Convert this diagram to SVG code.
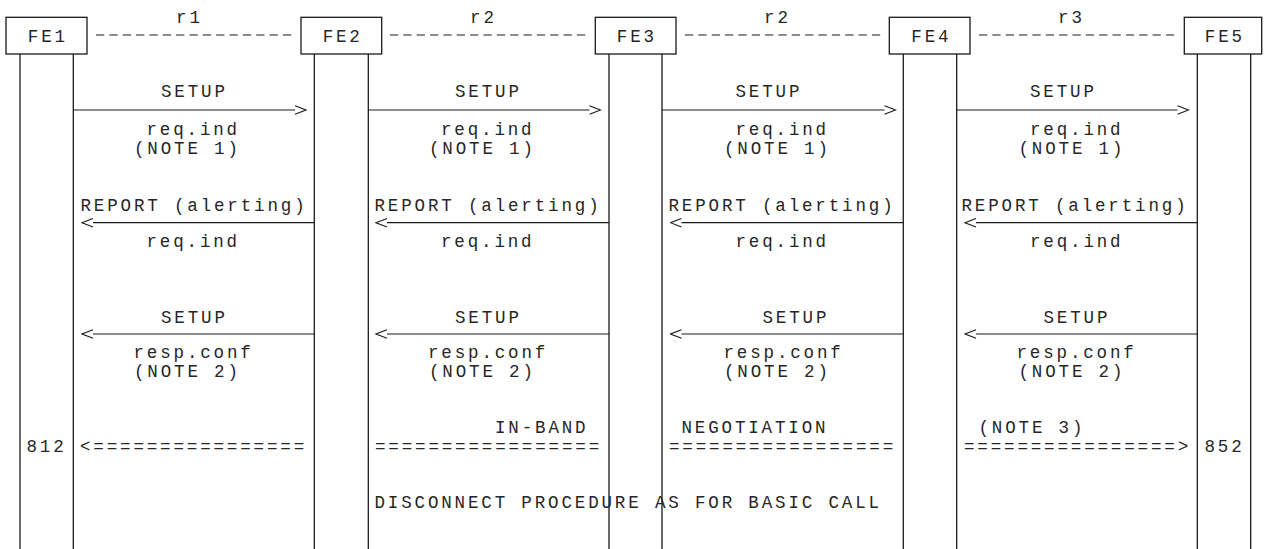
<svg xmlns="http://www.w3.org/2000/svg" width="1271" height="549" viewBox="0 0 1271 549">
<style>
.t{font-family:"Liberation Mono","Courier New",monospace;font-size:17.5px;letter-spacing:2.85px;fill:#262626}
.c{text-anchor:middle}
.box{fill:#fff;stroke:#1a1a1a;stroke-width:1.3}
.life{stroke:#1a1a1a;stroke-width:1.3}
.msg{stroke:#1a1a1a;stroke-width:1.2;fill:none}
.dash{stroke:#1a1a1a;stroke-width:1.2;stroke-dasharray:8.3 5.05}
</style>
<defs>
<marker id="chev" markerUnits="userSpaceOnUse" viewBox="-1 -1 13 11" refX="0" refY="4.2" markerWidth="13" markerHeight="11" orient="auto">
<path d="M0,0 L11,4.2 L0,8.4" fill="none" stroke="#1a1a1a" stroke-width="1.1"/>
</marker>
</defs>
<rect width="1271" height="549" fill="#fff"/>
<g id="FE1">
<rect class="box" x="6" y="17.3" width="81" height="36.7"/>
<line class="life" x1="20" y1="54" x2="20" y2="549"/>
<line class="life" x1="73.3" y1="54" x2="73.3" y2="549"/>
<text class="t c" x="47.9" y="42">FE1</text>
</g>
<g id="FE2">
<rect class="box" x="301" y="17.3" width="80.7" height="36.7"/>
<line class="life" x1="314.3" y1="54" x2="314.3" y2="549"/>
<line class="life" x1="368.3" y1="54" x2="368.3" y2="549"/>
<text class="t c" x="342.7" y="42">FE2</text>
</g>
<g id="FE3">
<rect class="box" x="595.3" y="17.3" width="80.7" height="36.7"/>
<line class="life" x1="609" y1="54" x2="609" y2="549"/>
<line class="life" x1="662" y1="54" x2="662" y2="549"/>
<text class="t c" x="636.9" y="42">FE3</text>
</g>
<g id="FE4">
<rect class="box" x="889.3" y="17.3" width="80.7" height="36.7"/>
<line class="life" x1="903.3" y1="54" x2="903.3" y2="549"/>
<line class="life" x1="956.7" y1="54" x2="956.7" y2="549"/>
<text class="t c" x="931.4" y="42">FE4</text>
</g>
<g id="FE5">
<rect class="box" x="1184.3" y="17.3" width="77.4" height="36.7"/>
<line class="life" x1="1197.3" y1="54" x2="1197.3" y2="549"/>
<line class="life" x1="1250.7" y1="54" x2="1250.7" y2="549"/>
<text class="t c" x="1224.9" y="42">FE5</text>
</g>
<g id="connectors">
<line class="dash" x1="96" y1="35" x2="293" y2="35"/>
<line class="dash" x1="390" y1="35" x2="588" y2="35"/>
<line class="dash" x1="685" y1="35" x2="882" y2="35"/>
<line class="dash" x1="979" y1="35" x2="1177" y2="35"/>
<line class="msg" x1="73.3" y1="110" x2="295" y2="110" marker-end="url(#chev)"/>
<line class="msg" x1="368.3" y1="110" x2="589.5" y2="110" marker-end="url(#chev)"/>
<line class="msg" x1="662" y1="110" x2="884.5" y2="110" marker-end="url(#chev)"/>
<line class="msg" x1="956.7" y1="110" x2="1177.5" y2="110" marker-end="url(#chev)"/>
<line class="msg" x1="314.3" y1="222.7" x2="93" y2="222.7" marker-end="url(#chev)"/>
<line class="msg" x1="609" y1="222.7" x2="387" y2="222.7" marker-end="url(#chev)"/>
<line class="msg" x1="903.3" y1="222.7" x2="681.5" y2="222.7" marker-end="url(#chev)"/>
<line class="msg" x1="1197.3" y1="222.7" x2="976" y2="222.7" marker-end="url(#chev)"/>
<line class="msg" x1="314.3" y1="334" x2="93" y2="334" marker-end="url(#chev)"/>
<line class="msg" x1="609" y1="334" x2="387" y2="334" marker-end="url(#chev)"/>
<line class="msg" x1="903.3" y1="334" x2="681.5" y2="334" marker-end="url(#chev)"/>
<line class="msg" x1="1197.3" y1="334" x2="976" y2="334" marker-end="url(#chev)"/>
<text class="t" x="80" y="452">&lt;================</text>
<text class="t" x="375" y="452">=================</text>
<text class="t" x="669" y="452">=================</text>
<text class="t" x="964" y="452">================&gt;</text>
</g>
<g id="labels">
<text class="t c" x="189.4" y="23">r1</text>
<text class="t c" x="483.4" y="23">r2</text>
<text class="t c" x="777.4" y="23">r2</text>
<text class="t c" x="1071.4" y="23">r3</text>

<text class="t" x="161" y="97">SETUP</text>
<text class="t" x="146.5" y="135">req.ind</text>
<text class="t" x="134" y="154">(NOTE 1)</text>
<text class="t" x="80.5" y="211">REPORT (alerting)</text>
<text class="t" x="146.5" y="247">req.ind</text>
<text class="t" x="161" y="323">SETUP</text>
<text class="t" x="133.5" y="358">resp.conf</text>
<text class="t" x="134" y="377">(NOTE 2)</text>
<text class="t" x="26.5" y="452">812</text>

<text class="t" x="455" y="97">SETUP</text>
<text class="t" x="441" y="135">req.ind</text>
<text class="t" x="429" y="154">(NOTE 1)</text>
<text class="t" x="374.5" y="211">REPORT (alerting)</text>
<text class="t" x="441" y="247">req.ind</text>
<text class="t" x="455" y="323">SETUP</text>
<text class="t" x="428" y="358">resp.conf</text>
<text class="t" x="429" y="377">(NOTE 2)</text>
<text class="t" x="495" y="433">IN-BAND</text>
<text class="t" x="374.5" y="508">DISCONNECT PROCEDURE AS FOR BASIC CALL</text>

<text class="t" x="735.5" y="97">SETUP</text>
<text class="t" x="735.5" y="135">req.ind</text>
<text class="t" x="724" y="154">(NOTE 1)</text>
<text class="t" x="668.5" y="211">REPORT (alerting)</text>
<text class="t" x="735.5" y="247">req.ind</text>
<text class="t" x="762.5" y="323">SETUP</text>
<text class="t" x="723.5" y="358">resp.conf</text>
<text class="t" x="724" y="377">(NOTE 2)</text>
<text class="t" x="681.5" y="433">NEGOTIATION</text>

<text class="t" x="1030" y="97">SETUP</text>
<text class="t" x="1030" y="135">req.ind</text>
<text class="t" x="1018.5" y="154">(NOTE 1)</text>
<text class="t" x="961.5" y="211">REPORT (alerting)</text>
<text class="t" x="1030" y="247">req.ind</text>
<text class="t" x="1043.5" y="323">SETUP</text>
<text class="t" x="1016.5" y="358">resp.conf</text>
<text class="t" x="1018.5" y="377">(NOTE 2)</text>
<text class="t" x="978.5" y="433">(NOTE 3)</text>
<text class="t" x="1204.5" y="452">852</text>
</g>
</svg>
